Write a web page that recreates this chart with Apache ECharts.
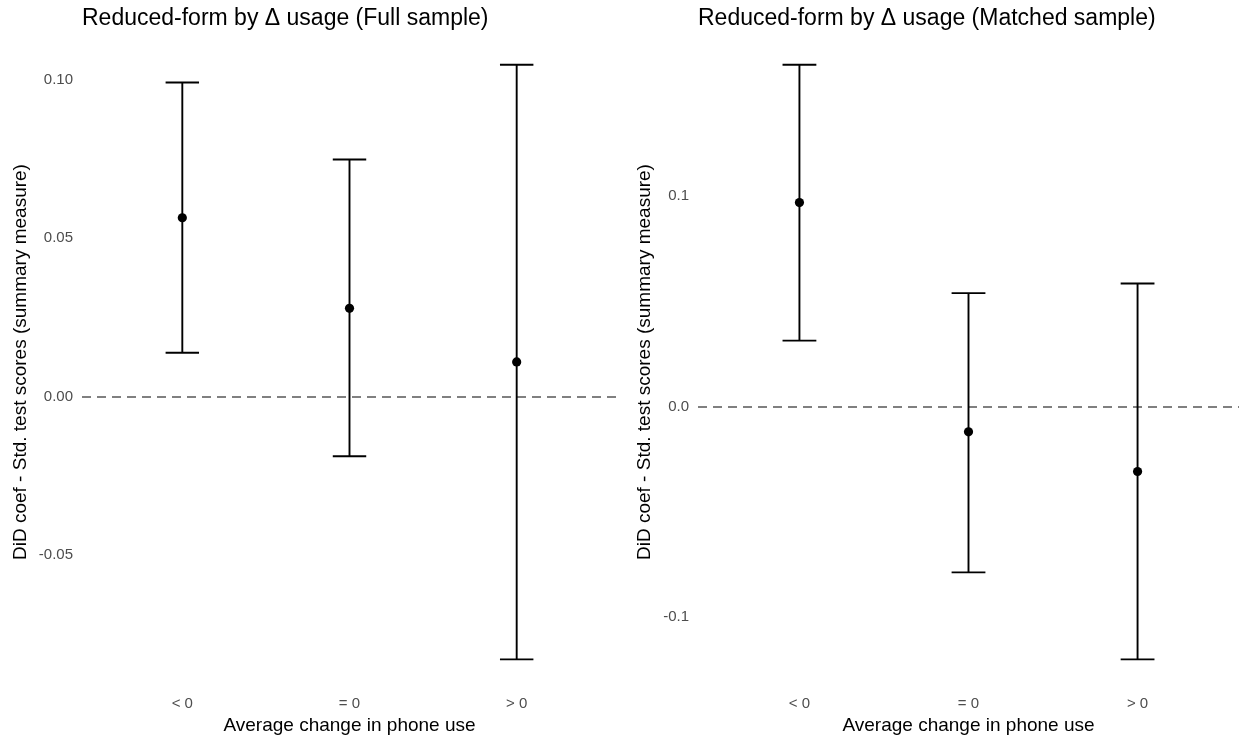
<!DOCTYPE html>
<html>
<head>
<meta charset="utf-8">
<title>Reduced-form by Δ usage</title>
<script src="https://cdn.jsdelivr.net/npm/echarts@6/dist/echarts.min.js"></script>
<style>
  html, body { margin: 0; padding: 0; background: #ffffff; }
  #chart { width: 1239px; height: 740px; }
</style>
</head>
<body>
<div id="chart"></div>
<script>
// Groups on the x axis (average change in phone use)
const categories = ['< 0', '= 0', '> 0'];

// Full sample: DiD point estimates with 95% CI bounds
const fullEstimate = [0.0564, 0.0278, 0.0109];
const fullLower    = [0.0138, -0.0189, -0.0830];
const fullUpper    = [0.0991, 0.0748, 0.1047];

// Matched sample: DiD point estimates with 95% CI bounds
const matchedEstimate = [0.0970, -0.0121, -0.0310];
const matchedLower    = [0.0313, -0.0790, -0.1204];
const matchedUpper    = [0.1626, 0.0539, 0.0585];

// Y tick labels per panel
const fullTicks = [-0.05, 0.00, 0.05, 0.10];
const matchedTicks = [-0.1, 0.0, 0.1];

const panelTitles = [
  'Reduced-form by Δ usage (Full sample)',
  'Reduced-form by Δ usage (Matched sample)'
];
const yTitle = 'DiD coef - Std. test scores (summary measure)';
const xTitle = 'Average change in phone use';

const FONT = '"Liberation Sans", Arial, Helvetica, sans-serif';
const CAP_HALF = 0.1; // half of the whisker cap width, in x data units

// Rows of [x position, estimate, lower, upper]
function rows(est, lo, hi) {
  return categories.map((c, i) => [i + 1, est[i], lo[i], hi[i]]);
}

// Range with 5% padding on each side of the interval extremes
function paddedRange(lo, hi) {
  const a = Math.min(...lo), b = Math.max(...hi);
  const pad = (b - a) * 0.05;
  return [a - pad, b + pad];
}

function renderErrorBar(params, api) {
  const x = api.value(0);
  const est = api.value(1), lo = api.value(2), hi = api.value(3);
  const pTop = api.coord([x, hi]);
  const pBot = api.coord([x, lo]);
  const tL = api.coord([x - CAP_HALF, hi]);
  const tR = api.coord([x + CAP_HALF, hi]);
  const bL = api.coord([x - CAP_HALF, lo]);
  const bR = api.coord([x + CAP_HALF, lo]);
  const pEst = api.coord([x, est]);
  const line = { stroke: '#000000', lineWidth: 1.9 };
  return {
    type: 'group',
    children: [
      { type: 'line', shape: { x1: pTop[0], y1: pTop[1], x2: pBot[0], y2: pBot[1] }, style: line },
      { type: 'line', shape: { x1: tL[0], y1: tL[1], x2: tR[0], y2: tR[1] }, style: line },
      { type: 'line', shape: { x1: bL[0], y1: bL[1], x2: bR[0], y2: bR[1] }, style: line },
      { type: 'circle', shape: { cx: pEst[0], cy: pEst[1], r: 4.6 }, style: { fill: '#000000' } }
    ]
  };
}

const fullRange = paddedRange(fullLower, fullUpper);
const matchedRange = paddedRange(matchedLower, matchedUpper);

function xAxis(gridIndex) {
  return {
    type: 'value', gridIndex: gridIndex,
    min: 0.4, max: 3.6,
    axisLine: { show: false }, axisTick: { show: false }, splitLine: { show: false },
    axisLabel: {
      customValues: categories.map((c, i) => i + 1),
      formatter: v => categories[Math.round(v) - 1],
      color: '#4d4d4d', fontSize: 15, fontFamily: FONT, margin: 7
    },
    name: xTitle, nameLocation: 'middle', nameGap: 25,
    nameTextStyle: { color: '#000000', fontSize: 19, fontFamily: FONT }
  };
}

function yAxis(gridIndex, range, ticks, digits, gap) {
  return {
    type: 'value', gridIndex: gridIndex,
    min: range[0], max: range[1],
    axisLine: { show: false }, axisTick: { show: false }, splitLine: { show: false },
    axisLabel: {
      customValues: ticks,
      formatter: v => Number(v).toFixed(digits),
      color: '#4d4d4d', fontSize: 15, fontFamily: FONT, margin: 9
    },
    name: yTitle, nameLocation: 'middle', nameGap: gap, nameRotate: 90,
    nameTextStyle: { color: '#000000', fontSize: 19, fontFamily: FONT }
  };
}

const zeroLine = {
  silent: true, symbol: 'none',
  label: { show: false },
  lineStyle: { type: [9, 6], color: '#808080', width: 2 },
  data: [{ yAxis: 0 }]
};

const titleStyle = { fontSize: 23, fontWeight: 'normal', color: '#000000', fontFamily: FONT };

const option = {
  animation: false,
  backgroundColor: '#ffffff',
  title: [
    { text: panelTitles[0], left: 82, top: 7, padding: 0, textStyle: titleStyle },
    { text: panelTitles[1], left: 698, top: 7, padding: 0, textStyle: titleStyle }
  ],
  grid: [
    { left: 82, top: 35, width: 535, height: 655 },
    { left: 698, top: 35, width: 542, height: 655 }
  ],
  xAxis: [xAxis(0), xAxis(1)],
  yAxis: [
    yAxis(0, fullRange, fullTicks, 2, 52),
    yAxis(1, matchedRange, matchedTicks, 1, 44)
  ],
  series: [
    { type: 'line', xAxisIndex: 0, yAxisIndex: 0, data: [], z: 1, markLine: zeroLine },
    { type: 'line', xAxisIndex: 1, yAxisIndex: 1, data: [], z: 1, markLine: zeroLine },
    { type: 'custom', xAxisIndex: 0, yAxisIndex: 0, z: 5, clip: false,
      renderItem: renderErrorBar, data: rows(fullEstimate, fullLower, fullUpper) },
    { type: 'custom', xAxisIndex: 1, yAxisIndex: 1, z: 5, clip: false,
      renderItem: renderErrorBar, data: rows(matchedEstimate, matchedLower, matchedUpper) }
  ]
};

const chart = echarts.init(document.getElementById('chart'), null, { renderer: 'canvas' });
chart.setOption(option);
</script>
</body>
</html>
